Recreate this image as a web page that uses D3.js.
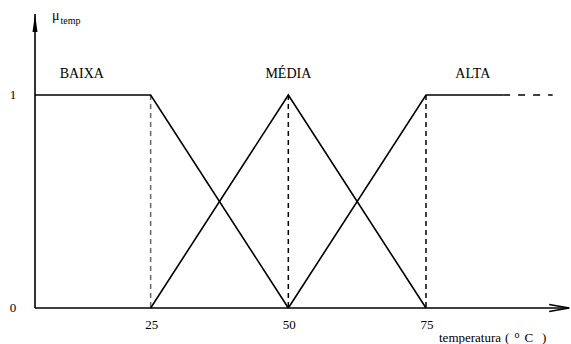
<!DOCTYPE html>
<html>
<head>
<meta charset="utf-8">
<script src="https://cdn.jsdelivr.net/npm/d3@7"></script>
<style>
  body { margin: 0; background: #fff; }
</style>
</head>
<body>
<div id="chart"></div>
<script>
// membership functions (temperature, mu)
var baixa = [[4, 1], [25, 1], [50, 0]];
var media = [[25, 0], [50, 1], [75, 0]];
var alta = [[50, 0], [75, 1], [89, 1]];
var altaDash = [[89, 1], [98, 1]];
var ticks = [25, 50, 75];
var yTicks = [0, 1];
var setNames = ["BAIXA", "MÉDIA", "ALTA"];
var setPos = [12.5, 50, 83.5];

var width = 571, height = 344;
var serif = "Liberation Serif";

var svg = d3.select("#chart")
  .append("svg")
    .attr("width", width)
    .attr("height", height)
    .attr("font-family", serif);

// x: 4 sits on the y axis
var x = d3.scaleLinear()
  .domain([4, 75])
  .range([35, 426]);

var y = d3.scaleLinear()
  .domain([0, 1])
  .range([308, 95]);

var line = d3.line()
  .x(function (d) { return x(d[0]); })
  .y(function (d) { return y(d[1]); });

// dashed guides
svg.append("g")
  .selectAll("line")
  .data(ticks)
  .enter()
  .append("line")
    .attr("x1", function (d) { return x(d); })
    .attr("x2", function (d) { return x(d); })
    .attr("y1", y(1))
    .attr("y2", y(0))
    .attr("stroke", function (d, i) { return i == 0 ? "#666" : "#000"; })
    .attr("stroke-width", 1.5)
    .attr("stroke-dasharray", "5,4");

// sets
[baixa, media, alta].forEach(function (s) {
  svg.append("path")
    .datum(s)
    .attr("d", line)
    .attr("fill", "none")
    .attr("stroke", "#000")
    .attr("stroke-width", 1.6);
});
svg.append("path")
  .datum(altaDash)
  .attr("d", line)
  .attr("fill", "none")
  .attr("stroke", "#000")
  .attr("stroke-width", 1.6)
  .attr("stroke-dasharray", "7,8");

// axes
var x0 = x(4), xEnd = x(101);
svg.append("line")
  .attr("x1", x0).attr("x2", xEnd)
  .attr("y1", y(0)).attr("y2", y(0))
  .attr("stroke", "#000").attr("stroke-width", 1.6);
svg.append("path")
  .attr("d", "M" + (xEnd - 20) + "," + (y(0) - 3.5) + "L" + xEnd + "," + y(0) + "L" + (xEnd - 20) + "," + (y(0) + 3.5))
  .attr("fill", "none").attr("stroke", "#000").attr("stroke-width", 1.4);

var yTop = 14;
svg.append("line")
  .attr("x1", x0).attr("x2", x0)
  .attr("y1", y(0)).attr("y2", yTop)
  .attr("stroke", "#000").attr("stroke-width", 1.6);
svg.append("path")
  .attr("d", "M" + (x0 - 2.5) + "," + (yTop + 18) + "L" + x0 + "," + yTop + "L" + (x0 + 2.5) + "," + (yTop + 18) + "Z")
  .attr("fill", "#000");

// tick labels
svg.append("g")
  .selectAll("text")
  .data(ticks)
  .enter()
  .append("text")
    .attr("x", function (d) { return x(d) + 1; })
    .attr("y", 329)
    .attr("text-anchor", "middle")
    .attr("font-family", serif)
    .attr("font-size", 13)
    .text(function (d) { return d; });

svg.append("g")
  .selectAll("text")
  .data(yTicks)
  .enter()
  .append("text")
    .attr("x", 13)
    .attr("y", function (d) { return y(d) + 4; })
    .attr("text-anchor", "middle")
    .attr("font-family", serif)
    .attr("font-size", 13)
    .text(function (d) { return d; });

// set names
svg.append("g")
  .selectAll("text")
  .data(setNames)
  .enter()
  .append("text")
    .attr("x", function (d, i) { return x(setPos[i]); })
    .attr("y", 78)
    .attr("text-anchor", "middle")
    .attr("font-family", serif)
    .attr("font-size", 14)
    .text(function (d) { return d; });

// axis titles
var yl = svg.append("text")
  .attr("x", 52)
  .attr("y", 20)
  .attr("font-family", serif)
  .attr("font-size", 14);
yl.append("tspan").text("μ");
yl.append("tspan").attr("dy", 4).attr("dx", 1).attr("font-size", 10).text("temp");

var xl = svg.append("text")
  .attr("x", 439)
  .attr("y", 342)
  .attr("font-family", serif)
  .attr("font-size", 13);
xl.append("tspan").text("temperatura");
xl.append("tspan").attr("dx", 4).text("(");
xl.append("tspan").attr("dx", 5).attr("dy", -4).attr("font-size", 10).text("o");
xl.append("tspan").attr("dx", 5).attr("dy", 4).text("C");
xl.append("tspan").attr("dx", 9).text(")");
</script>
</body>
</html>
